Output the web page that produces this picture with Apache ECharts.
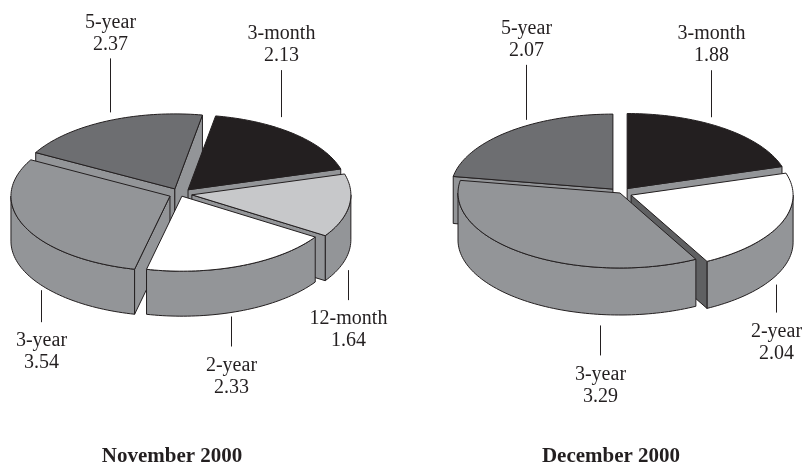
<!DOCTYPE html>
<html>
<head>
<meta charset="utf-8">
<script src="https://cdn.jsdelivr.net/npm/echarts@6/dist/echarts.min.js"></script>
<style>
  html, body { margin: 0; padding: 0; background: #fff; }
  #chart { width: 805px; height: 466px; }
</style>
</head>
<body>
<div id="chart"></div>
<script>
// yields by maturity, two months
const novNames = ['3-month', '12-month', '2-year', '3-year', '5-year'];
const novValues = [2.13, 1.64, 2.33, 3.54, 2.37];
const decNames = ['3-month', '2-year', '3-year', '5-year'];
const decValues = [1.88, 2.04, 3.29, 2.07];
const monthTitles = ['November 2000', 'December 2000'];

const topColors = {
  '3-month': '#231f20',
  '12-month': '#c7c8ca',
  '2-year': '#ffffff',
  '3-year': '#939598',
  '5-year': '#6d6e71'
};
const wallColor = '#939598';
const darkWall = '#5f6062';
const ink = '#231f20';
const FONT = '"Liberation Serif", "Times New Roman", serif';
const RAD = Math.PI / 180;

// layout / style of each pie (leaders: [angle, gap, length])
const pies = [
  {
    names: novNames, values: novValues, title: monthTitles[0], titleX: 172,
    cx: 180, cy: 194, rx: 159, ry: 75, h: 45, start: -80,
    explode: [12, 12, 5, 11, 12],
    leaders: [[-54, 12, 47], [11, 16, 30], [72, 4, 30], [144, 5, 32], [246, 8, 54]]
  },
  {
    names: decNames, values: decValues, title: monthTitles[1], titleX: 611,
    cx: 620, cy: 193, rx: 162, ry: 75, h: 47, start: -90,
    explode: [12, 12, 0, 11],
    leaders: [[-59, 7, 47], [26.5, 9, 28], [97, 11, 30], [237.5, 6, 55]]
  }
];

function sliceAngles(p) {
  const total = p.values.reduce((s, v) => s + v, 0);
  const out = [];
  let a = p.start;
  p.values.forEach(v => {
    const b = a + v / total * 360;
    out.push([a, b]);
    a = b;
  });
  return out;
}

function renderItem(params, api) {
  const p = pies[params.seriesIndex];
  const i = params.dataIndex;
  const angles = sliceAngles(p);
  const [a0, a1] = angles[i];
  const mid = (a0 + a1) / 2 * RAD;
  const d = p.explode[i];
  const ox = d * Math.cos(mid);
  const oy = d * Math.sin(mid) * p.ry / p.rx;

  // back-to-front rank for the side walls
  const order = angles
    .map((ab, k) => ({ k, s: Math.sin((ab[0] + ab[1]) / 2 * RAD) }))
    .sort((m, n) => m.s - n.s)
    .map(o => o.k);
  const rank = order.indexOf(i);

  const pt = (deg, z) => [p.cx + ox + p.rx * Math.cos(deg * RAD), p.cy + oy + p.ry * Math.sin(deg * RAD) + z];
  const arc = (from, to, z) => {
    const n = Math.max(2, Math.ceil(Math.abs(to - from) / 1.5));
    const pts = [];
    for (let k = 0; k <= n; k++) pts.push(pt(from + (to - from) * k / n, z));
    return pts;
  };
  const c0 = [p.cx + ox, p.cy + oy];
  const c1 = [p.cx + ox, p.cy + oy + p.h];
  const edge = { stroke: ink, lineWidth: 1, lineJoin: 'miter' };
  const children = [];

  // outer wall, front half only
  [[0, 180], [360, 540], [-360, -180]].forEach(([w0, w1]) => {
    const lo = Math.max(a0, w0), hi = Math.min(a1, w1);
    if (hi > lo) {
      children.push({
        type: 'polygon', z2: 10 + rank * 3,
        shape: { points: arc(lo, hi, 0).concat(arc(hi, lo, p.h)) },
        style: Object.assign({ fill: wallColor }, edge)
      });
    }
  });
  // radial faces that face the viewer
  if (Math.cos(a0 * RAD) < 0) {
    children.push({
      type: 'polygon', z2: 11 + rank * 3,
      shape: { points: [c0, pt(a0, 0), pt(a0, p.h), c1] },
      style: Object.assign({ fill: Math.sin(a0 * RAD) < -0.7 ? darkWall : wallColor }, edge)
    });
  }
  if (Math.cos(a1 * RAD) > 0) {
    children.push({
      type: 'polygon', z2: 11 + rank * 3,
      shape: { points: [c0, pt(a1, 0), pt(a1, p.h), c1] },
      style: Object.assign({ fill: -Math.sin(a1 * RAD) < -0.7 ? darkWall : wallColor }, edge)
    });
  }
  // top face
  children.push({
    type: 'polygon', z2: 100,
    shape: { points: [c0].concat(arc(a0, a1, 0)) },
    style: Object.assign({ fill: topColors[p.names[i]] }, edge)
  });

  // leader line and label
  const [la, gap, len] = p.leaders[i];
  const back = Math.sin(la * RAD) < 0;
  const anchor = pt(la, back ? 0 : p.h);
  const lx = Math.round(anchor[0]) + 0.5;
  let y1, y2, nameY, valY;
  if (back) {
    y1 = anchor[1] - gap; y2 = y1 - len;
    valY = y2 - 14; nameY = valY - 22;
  } else {
    y1 = anchor[1] + gap; y2 = y1 + len;
    nameY = y2 + 19; valY = nameY + 22;
  }
  children.push({
    type: 'line', z2: 120,
    shape: { x1: lx, y1: y1, x2: lx, y2: y2 },
    style: { stroke: ink, lineWidth: 1 }
  });
  const txt = (t, y) => ({
    type: 'text', z2: 120, x: lx, y: y,
    style: { text: t, font: '20px ' + FONT, fill: ink, align: 'center', verticalAlign: 'middle' }
  });
  children.push(txt(p.names[i], nameY));
  children.push(txt(api.value(0).toFixed(2), valY));

  return { type: 'group', children };
}

const chart = echarts.init(document.getElementById('chart'), null, { renderer: 'canvas' });
chart.setOption({
  backgroundColor: '#ffffff',
  animation: false,
  graphic: pies.map(p => ({
    type: 'text', x: p.titleX, y: 457,
    style: { text: p.title, font: 'bold 21px ' + FONT, fill: ink, align: 'center', verticalAlign: 'middle' }
  })),
  series: pies.map(p => ({
    type: 'custom',
    coordinateSystem: 'none',
    silent: true,
    renderItem: renderItem,
    data: p.values.map((v, k) => ({ name: p.names[k], value: [v] }))
  }))
});
</script>
</body>
</html>
